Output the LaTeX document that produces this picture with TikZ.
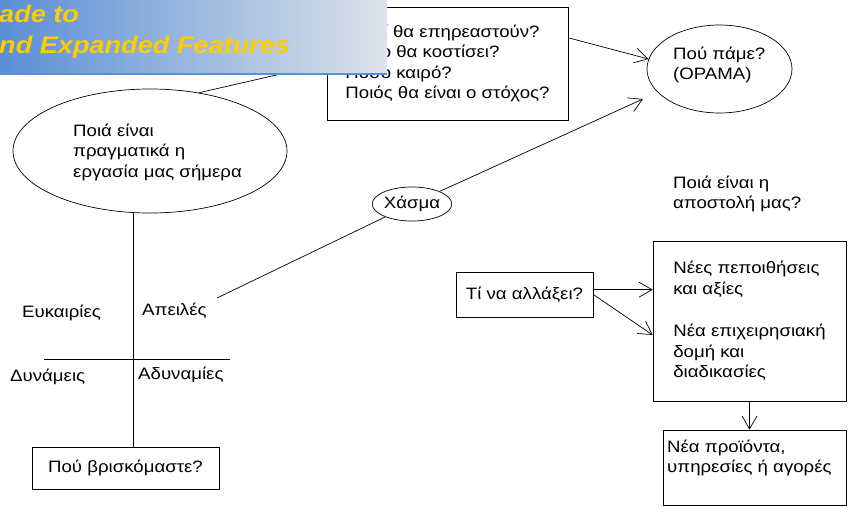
\documentclass[tikz,border=0pt]{standalone}
\usepackage{fontspec}
\setmainfont{Liberation Sans}[FakeStretch=1.13]
\usetikzlibrary{shapes.geometric,arrows.meta}

\definecolor{bannerblue}{HTML}{5A8FD6}
\definecolor{bannergrey}{HTML}{DDE3EA}
\definecolor{banneryellow}{HTML}{FFCC00}

\tikzset{
  box/.style={draw, line width=0.7pt, rectangle, inner sep=0pt, align=left},
  oval/.style={draw, line width=0.7pt, ellipse, inner sep=0pt},
  lbl/.style={inner sep=0pt, anchor=west, align=left},
  link/.style={line width=0.7pt},
  arr/.style={link, -{Straight Barb[length=13pt, width=15pt]}},
}

\begin{document}
\begin{tikzpicture}[x=1pt, y=-1pt, font=\fontsize{16.5}{20.5}\selectfont]

    \useasboundingbox (0,0) rectangle (848,506);

    % Where we are today
    \node[oval, minimum width=274, minimum height=124] (now) at (150,151) {};
    \node[lbl] (nowtxt) at (73,152) {Ποιά είναι\\πραγματικά η\\εργασία μας σήμερα};

    % Questions box (partly hidden by the banner)
    \node[box, minimum width=241, minimum height=113] (questions) at (447.5,63.5)
         {Ποιοί θα επηρεαστούν?\\Πόσο θα κοστίσει?\\Πόσο καιρό?\\Ποιός θα είναι ο στόχος?};
    \draw[link] (now.50) -- (questions.west);

    % Vision
    \node[oval, minimum width=145, minimum height=88] (vision) at (719.5,69) {};
    \node[lbl] (visiontxt) at (673,65) {Πού πάμε?\\(ΟΡΑΜΑ)};
    \draw[arr] (questions.12) -- (vision.172);

    \node[lbl] (mission) at (673,194) {Ποιά είναι η\\αποστολή μας?};

    % SWOT cross
    \coordinate (hl) at (44,359);
    \coordinate (hr) at (230,359);
    \coordinate (cross) at (133,359);
    \draw[link] (hl) -- (hr);

    \node[lbl] (opps) at (22,313) {Ευκαιρίες};
    \node[lbl] (threats) at (142,311) {Απειλές};
    \node[lbl] (strengths) at (10,377) {Δυνάμεις};
    \node[lbl] (weak) at (138,375) {Αδυναμίες};

    \node[box, minimum width=187, minimum height=42, align=center] (here) at (125.5,468) {Πού βρισκόμαστε?};
    \draw[link] (now.south -| cross) -- (here.north -| cross);

    % Gap
    \node[oval, minimum width=78, minimum height=34] (gap) at (412,204) {Χάσμα};
    \coordinate (gapfrom) at (217,298);
    \coordinate (visiontip) at (643,99);
    \draw[link] (gapfrom) -- (gap);
    \draw[arr] (gap) -- (visiontip);

    % What to change
    \node[box, minimum width=137, minimum height=45, align=center] (change) at (524.5,294.5) {Τί να αλλάξει?};
    \node[box, minimum width=193, minimum height=160] (new) at (749.5,321)
         {Νέες πεποιθήσεις\\και αξίες\\[22pt]Νέα επιχειρησιακή\\δομή και\\διαδικασίες};
    \draw[arr] (change.4) -- (change.4 -| new.west);
    \draw[arr] (change.east) -- ([yshift=-14pt]new.west);

    \node[box, minimum width=183, minimum height=75] (products) at (754.5,467.5) {};
    \node[lbl] (productstxt) at (667,458) {Νέα προϊόντα,\\υπηρεσίες ή αγορές};
    \draw[arr] (new.south) -- (new.south |- products.north);

    % Banner on top
    \node[anchor=north west, minimum width=387, minimum height=74, inner sep=0pt,
          left color=bannerblue, right color=bannergrey] (banner) at (0,0) {};
    \draw[bannerblue, line width=2pt] (banner.south west) -- (banner.south east);
    \node[anchor=base west, inner sep=0pt, banneryellow, font=\fontsize{24}{30}\selectfont\bfseries\itshape]
         (bannertop) at (-1,22) {ade to};
    \node[anchor=base west, inner sep=0pt, banneryellow, font=\fontsize{24}{30}\selectfont\bfseries\itshape]
         (bannerbot) at (-1,53) {nd Expanded Features};

\end{tikzpicture}
\end{document}
